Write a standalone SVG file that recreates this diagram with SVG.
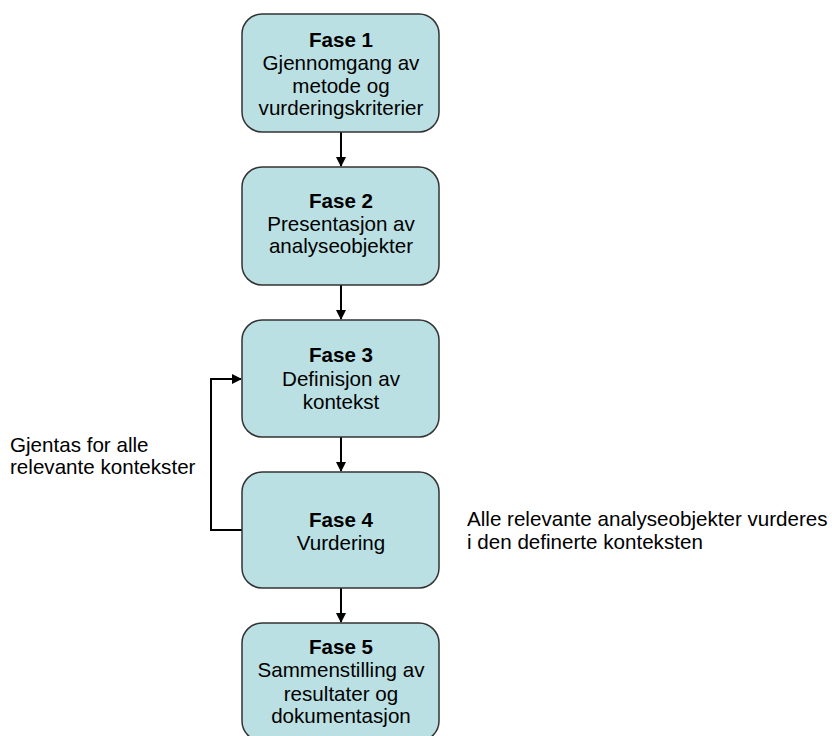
<svg xmlns="http://www.w3.org/2000/svg" width="832" height="736" viewBox="0 0 832 736">
<style>
.box{fill:#BBE0E3;stroke:#333333;stroke-width:1.5}
text{font-family:"Liberation Sans",Arial,sans-serif;font-size:20.6px;fill:#000}
.c{text-anchor:middle}
.b{font-weight:bold}
.conn{fill:none;stroke:#000;stroke-width:2}
</style>
<defs>
<marker id="ah" markerWidth="10" markerHeight="10" refX="9" refY="5" orient="auto" markerUnits="userSpaceOnUse">
<path d="M0,0 L10,5 L0,10 z" fill="#000"/>
</marker>
</defs>
<rect width="832" height="736" fill="#fff"/>
<g id="connectors">
<line class="conn" x1="341" y1="132" x2="341" y2="166" marker-end="url(#ah)"/>
<line class="conn" x1="341" y1="285" x2="341" y2="319" marker-end="url(#ah)"/>
<line class="conn" x1="341" y1="437" x2="341" y2="471" marker-end="url(#ah)"/>
<line class="conn" x1="341" y1="588" x2="341" y2="622" marker-end="url(#ah)"/>
<path class="conn" d="M242,530 H211 V379 H241" marker-end="url(#ah)"/>
</g>
<g id="fase1">
<rect class="box" x="242" y="14" width="197" height="118" rx="20"/>
<text class="c b" x="341" y="47">Fase 1</text>
<text class="c" x="341" y="70">Gjennomgang av</text>
<text class="c" x="341" y="93">metode og</text>
<text class="c" x="341" y="115">vurderingskriterier</text>
</g>
<g id="fase2">
<rect class="box" x="242" y="167" width="197" height="118" rx="20"/>
<text class="c b" x="341" y="208">Fase 2</text>
<text class="c" x="341" y="231">Presentasjon av</text>
<text class="c" x="341" y="253">analyseobjekter</text>
</g>
<g id="fase3">
<rect class="box" x="242" y="320" width="197" height="117" rx="20"/>
<text class="c b" x="341" y="362">Fase 3</text>
<text class="c" x="341" y="386">Definisjon av</text>
<text class="c" x="341" y="409">kontekst</text>
</g>
<g id="fase4">
<rect class="box" x="242" y="472" width="197" height="116" rx="20"/>
<text class="c b" x="341" y="527">Fase 4</text>
<text class="c" x="341" y="550">Vurdering</text>
</g>
<g id="fase5">
<rect class="box" x="242" y="623" width="197" height="118" rx="20"/>
<text class="c b" x="341" y="654">Fase 5</text>
<text class="c" x="341" y="677">Sammenstilling av</text>
<text class="c" x="341" y="701">resultater og</text>
<text class="c" x="341" y="723">dokumentasjon</text>
</g>
<g id="label-loop">
<text x="10" y="452">Gjentas for alle</text>
<text x="10" y="474">relevante kontekster</text>
</g>
<g id="label-right">
<text x="467" y="526">Alle relevante analyseobjekter vurderes</text>
<text x="467" y="549">i den definerte konteksten</text>
</g>
</svg>
